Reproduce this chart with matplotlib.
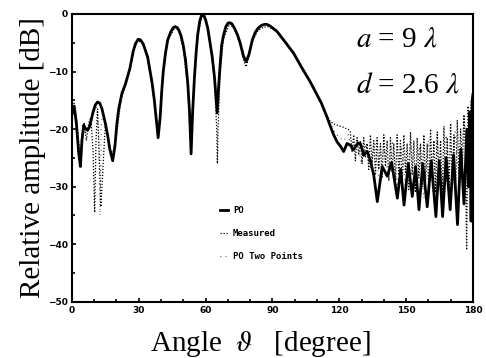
import matplotlib
matplotlib.use("Agg")
import matplotlib.pyplot as plt
from matplotlib.ticker import MultipleLocator

# ---------------- data ----------------
po_ang = [0, 1, 2, 3, 3.8, 4.5, 5.3, 6.2, 7, 8, 9.5, 10.5, 11.5, 12.5, 13.5, 15, 16, 17, 18.3,
          19.3, 20.2, 21, 22.5, 24, 26, 27.5, 28.5, 29.7, 30.8, 32, 34, 36, 37, 37.8, 38.7,
          39.6, 40.3, 41, 42, 43, 44.5, 45.5, 46.4, 47.3, 48, 49, 50, 51, 52, 52.8, 53.5,
          54.2, 55, 55.8, 56.5, 57.4, 58.4, 59.3, 60, 61, 62, 63, 64, 64.7, 65.2, 65.8, 66.5,
          67.2, 68, 69, 70, 70.8, 71.8, 73, 74.3, 75.5, 77, 78.2, 79.5, 81, 82.3, 83.5, 85,
          86.5, 87.5, 89, 92, 95, 99.5, 103, 107, 110, 112, 114.4, 116, 117.5, 119, 120.6,
          122, 123.5, 125, 126.3, 127.4, 128.5, 129.6, 131, 132.6, 134, 135.5, 137.1, 139.3,
          141.6, 143.5, 146.1, 147.6, 149.1, 151, 152.8, 154.3, 155.8, 157.5, 159.5, 161.3,
          163.4, 164.9, 166.4, 168, 169.8, 171.3, 173.1, 174.6, 176, 177.3, 178, 178.6,
          179.2, 179.7, 180]
po_db = [-17.5, -16, -19, -24, -26.5, -22, -19.3, -20, -20.2, -19.5, -17, -15.8, -15.3, -15.5,
         -16.5, -19, -21, -23.5, -25.5, -23, -19, -16.5, -13.7, -12.2, -9.5, -6.5, -5.2, -4.4,
         -4.5, -5.2, -7.5, -12, -15, -18, -21.5, -18, -13.5, -10, -6.8, -4.5, -3, -2.4, -2.2,
         -2.4, -2.8, -3.8, -5.5, -8, -12, -17, -24.3, -17, -11, -6.5, -3.5, -1.2, 0, -0.3, -1,
         -2.5, -5, -7.5, -11, -14.5, -17.2, -13, -9, -5.5, -3.8, -2.3, -1.6, -1.5, -1.7, -2.5,
         -3.6, -5, -7.3, -8.3, -7, -4.5, -3.2, -2.5, -2.0, -1.8, -1.8, -2.1, -3, -4.5, -6.8,
         -9.2, -11.8, -14, -15.5, -17.8, -19.5, -21, -22.2, -23, -23.9, -22.5, -22.8, -23.6,
         -23, -22.4, -22.6, -24.5, -23.9, -25.5, -28, -32.6, -26.5, -28.2, -25.8, -32, -27,
         -33.2, -26, -31.7, -26.5, -34, -26, -33.5, -25.5, -35.2, -25.5, -35.2, -25, -34,
         -24.5, -36.6, -23.5, -33, -20, -30, -17, -36, -15, -14]

meas_ang = [0, 1, 2, 3, 3.8, 4.5, 5.5, 6.5, 7.5, 8.5, 9.5, 10.2, 10.8, 11.5, 12.2, 13, 15, 17,
            18.5, 20, 22, 24, 26, 28, 29.7, 32, 34, 36, 38, 38.7, 39.6, 41, 43, 46.4, 48, 50,
            52, 53.3, 53.6, 55, 56.5, 58.4, 60, 62, 64, 65, 65.3, 65.6, 66.5, 68, 70.8, 73,
            75.5, 77, 78.2, 79.5, 81, 83.5, 86, 88, 90, 92, 95, 99.5, 103, 107, 110, 112, 114,
            116, 118, 121.4, 124.2,
            125, 125.75, 126.5, 127.25, 128, 128.75, 129.5, 130.25, 131, 131.75, 132.5, 133.25,
            134, 134.75, 135.5, 136.25, 137, 137.75, 138.5, 139.25, 140, 140.75, 141.5, 142.25,
            143, 143.75, 144.5, 145.25, 146, 146.75, 147.5, 148.25, 149, 149.75, 150.5, 151.25,
            152, 152.75, 153.5, 154.25, 155, 155.75, 156.5, 157.25, 158, 158.75, 159.5, 160.25,
            161, 161.75, 162.5, 163.25, 164, 164.75, 165.5, 166.25, 167, 167.75, 168.5, 169.25,
            170, 170.75, 171.5, 172.25, 173, 173.75, 174.5, 175.25, 176, 176.6, 177.2, 177.8,
            178.5, 179.2, 180]
meas_db = [-16, -15.5, -18, -22, -25, -21, -19, -22, -19, -18, -24, -34.5, -22, -16.5, -24,
           -33.5, -19, -23, -25, -21, -15, -12.5, -9.7, -6, -4.6, -5.2, -7.8, -12.5, -19, -21,
           -17, -9.8, -4.5, -2.3, -3, -6, -13, -22, -20, -11, -3.7, -0.2, -1.1, -5.2, -11.5,
           -20, -26, -20, -10.5, -4.3, -1.7, -2.6, -5.3, -8, -9.2, -7.3, -4.7, -2.9, -2.3,
           -2.2, -2.6, -3.1, -4.6, -7, -9.3, -11.8, -14, -15.3, -17.3, -18.7, -19.2, -19.6,
           -20.1,
           -20.5, -24, -21, -25.5, -21.5, -24.5, -22, -26, -21.5, -25, -22.5, -27,
           -21, -26, -22, -28, -21.5, -27, -22.5, -28.5, -21, -26.5, -22, -29,
           -21.5, -27.5, -22.5, -29.5, -21, -28, -22, -30, -21, -27.5, -22.5, -30.5,
           -20.5, -28, -22, -31, -21.5, -28.5, -22.5, -30, -21, -29, -22.5, -31.5,
           -20, -28.5, -22, -31, -20.5, -29, -22, -32, -19.5, -29.5, -21.5, -32,
           -19, -29, -21, -31, -18.5, -28, -20, -27, -17.5, -24, -41, -16,
           -22, -15, -15]

two_ang = [0, 1, 2, 3, 4, 5, 6, 7, 8, 9, 10, 11, 12, 12.6, 13.2, 14, 16, 18, 20, 22, 24,
           float("nan"),
           112, 114, 116, 118, 120, 122, 124, 126, 128, 130, 132, 134, 136, 138, 140, 142,
           144, 146, 148, 150, 152, 154, 156, 158, 160, 162, 164, 166, 168, 170, 172, 174,
           176, 178, 180]
two_db = [-16.5, -17, -20, -25, -23, -20, -21, -19.5, -20, -18, -17, -16, -20, -35, -19, -17,
          -21, -25, -20, -14.5, -12.3,
          float("nan"),
          -15.5, -17.5, -19, -20.5, -21.5, -22, -21, -24, -22, -26, -23, -27, -22.5, -29,
          -23, -28, -22, -30, -23, -31, -22, -30, -23, -32, -22, -31, -21.5, -33, -21, -32,
          -20.5, -30, -18, -25, -14]

labels = ["PO", "Measured", "PO Two Points"]
xticks = [0, 30, 60, 90, 120, 150, 180]
yticks = [0, -10, -20, -30, -40, -50]

# ---------------- figure ----------------
plt.rcParams["mathtext.fontset"] = "stix"
fig = plt.figure(figsize=(4.86, 3.58), dpi=100)
ax = fig.add_axes([0.148, 0.157, 0.825, 0.804])

l_two, = ax.plot(two_ang, two_db, color="black", lw=0.8, linestyle=(0, (0.6, 4)))
l_meas, = ax.plot(meas_ang, meas_db, color="black", lw=0.9, linestyle=(0, (1, 1.4)))
l_po, = ax.plot(po_ang, po_db, color="black", lw=2.0)

ax.set_xlim(0, 180)
ax.set_ylim(-50, 0)
ax.set_xticks(xticks)
ax.set_yticks(yticks)
ax.xaxis.set_minor_locator(MultipleLocator(10))
ax.yaxis.set_minor_locator(MultipleLocator(5))
ax.tick_params(which="both", direction="in", width=1.2, labelsize=6.5, pad=3)
ax.tick_params(which="major", length=3)
ax.tick_params(which="minor", length=2)
for lab in ax.get_xticklabels() + ax.get_yticklabels():
    lab.set_fontweight("bold")
for sp in ax.spines.values():
    sp.set_linewidth(1.5)

ax.set_xlabel(r"Angle  $\vartheta$   [degree]", family="Liberation Serif", fontsize=21,
              labelpad=-1)
ax.xaxis.set_label_coords(0.47, -0.093, transform=ax.transAxes)
ax.xaxis.label.set_va("top")
ax.set_ylabel("Relative amplitude [dB]", family="Liberation Serif", fontsize=21, labelpad=1)

ax.text(127.4, -5.7, r"$a$ = 9 $\lambda$", family="Liberation Serif", fontsize=21,
        ha="left", va="baseline")
ax.text(127.4, -13.7, r"$d$ = 2.6 $\lambda$", family="Liberation Serif", fontsize=21,
        ha="left", va="baseline")

leg = ax.legend([l_po, l_meas, l_two], labels, loc="upper left",
                bbox_to_anchor=(0.35, 0.36), frameon=False, handlelength=0.8,
                handletextpad=0.6, labelspacing=1.55,
                prop={"family": "DejaVu Sans Mono", "weight": "bold", "size": 6.5})

fig.savefig("out.png", dpi=100, facecolor="white")
